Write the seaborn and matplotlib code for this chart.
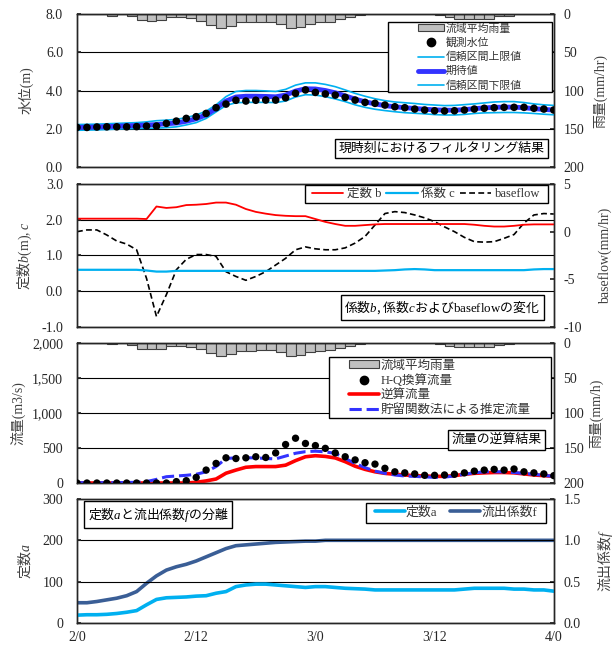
import numpy as np
import matplotlib
matplotlib.use("Agg")
import matplotlib.pyplot as plt
import seaborn as sns
from matplotlib.lines import Line2D
from matplotlib.patches import Patch, Rectangle
from matplotlib.ticker import FuncFormatter, FormatStrFormatter

sns.set_theme(style="white")
plt.rcParams['font.family'] = ['Liberation Serif', 'Noto Sans CJK JP']
plt.rcParams['mathtext.fontset'] = 'custom'
plt.rcParams['mathtext.it'] = 'Liberation Serif:italic'
plt.rcParams['mathtext.rm'] = 'Liberation Serif'
plt.rcParams['axes.unicode_minus'] = False

# hourly data, 2/0 .. 4/0
hours = np.arange(49)
xtick_pos = [0, 12, 24, 36, 48]
xtick_labels = ["2/0", "2/12", "3/0", "3/12", "4/0"]

rain = [0, 0, 0, 2, 0, 3, 8, 9, 8, 4, 4, 5, 9, 14, 18, 16, 11, 11, 10, 10,
        13, 18, 17, 13, 11, 10, 7, 4, 1.5, 0, 0, 0, 0, 0, 0, 0, 1, 4, 6, 6,
        6, 6, 3, 2, 0, 0, 0, 0, 0]

level_obs = [2.07, 2.07, 2.09, 2.10, 2.10, 2.10, 2.11, 2.14, 2.14, 2.28,
             2.40, 2.54, 2.63, 2.80, 3.10, 3.29, 3.49, 3.45, 3.49, 3.50,
             3.50, 3.62, 3.85, 4.03, 3.90, 3.82, 3.76, 3.64, 3.50, 3.38,
             3.33, 3.24, 3.15, 3.10, 3.03, 2.98, 2.94, 2.93, 2.94, 2.98,
             3.03, 3.07, 3.10, 3.12, 3.12, 3.12, 3.07, 3.03, 2.98]
level_exp = [2.07, 2.08, 2.09, 2.11, 2.13, 2.15, 2.17, 2.19, 2.22, 2.26,
             2.30, 2.39, 2.52, 2.73, 3.06, 3.45, 3.66, 3.70, 3.70, 3.69,
             3.67, 3.76, 3.97, 4.09, 4.08, 4.00, 3.88, 3.72, 3.55, 3.41,
             3.30, 3.21, 3.15, 3.10, 3.06, 3.02, 2.99, 2.97, 2.97, 3.00,
             3.05, 3.09, 3.12, 3.13, 3.13, 3.10, 3.05, 3.01, 2.98]
level_up = [2.22, 2.23, 2.24, 2.26, 2.28, 2.30, 2.32, 2.36, 2.42, 2.45,
            2.49, 2.58, 2.72, 2.92, 3.25, 3.68, 3.95, 4.00, 4.00, 3.98,
            3.95, 4.06, 4.28, 4.40, 4.40, 4.32, 4.20, 4.03, 3.85, 3.70,
            3.57, 3.47, 3.40, 3.36, 3.32, 3.27, 3.24, 3.21, 3.22, 3.26,
            3.30, 3.35, 3.40, 3.42, 3.42, 3.37, 3.30, 3.25, 3.22]
level_low = [1.92, 1.93, 1.94, 1.96, 1.98, 2.00, 2.01, 2.02, 2.03, 2.06,
             2.10, 2.20, 2.32, 2.54, 2.88, 3.22, 3.36, 3.38, 3.38, 3.38,
             3.37, 3.45, 3.66, 3.78, 3.76, 3.68, 3.56, 3.42, 3.25, 3.12,
             3.02, 2.95, 2.89, 2.84, 2.81, 2.78, 2.74, 2.72, 2.72, 2.75,
             2.80, 2.83, 2.84, 2.85, 2.85, 2.83, 2.80, 2.76, 2.73]

const_b = [2.03, 2.03, 2.03, 2.03, 2.03, 2.03, 2.03, 2.02, 2.37, 2.33,
           2.35, 2.41, 2.42, 2.44, 2.48, 2.48, 2.42, 2.30, 2.22, 2.17,
           2.13, 2.11, 2.10, 2.10, 2.02, 1.94, 1.88, 1.83, 1.83, 1.85,
           1.87, 1.88, 1.88, 1.88, 1.88, 1.88, 1.88, 1.88, 1.88, 1.88,
           1.86, 1.83, 1.81, 1.81, 1.83, 1.86, 1.87, 1.87, 1.87]
coef_c = [0.60, 0.60, 0.60, 0.60, 0.60, 0.60, 0.60, 0.58, 0.55, 0.55,
          0.57, 0.57, 0.57, 0.57, 0.57, 0.57, 0.57, 0.57, 0.57, 0.57,
          0.57, 0.57, 0.57, 0.57, 0.57, 0.57, 0.57, 0.57, 0.57, 0.57,
          0.57, 0.58, 0.59, 0.61, 0.62, 0.61, 0.59, 0.59, 0.59, 0.59,
          0.59, 0.59, 0.59, 0.59, 0.59, 0.59, 0.61, 0.62, 0.62]
baseflow = [0.0, 0.18, 0.18, -0.35, -0.98, -1.3, -1.9, -4.9, -8.9, -6.6,
            -4.0, -2.9, -2.4, -2.4, -2.6, -4.2, -4.7, -5.1, -4.7, -4.2,
            -3.5, -2.8, -1.9, -1.6, -1.8, -1.9, -1.9, -1.7, -1.2, -0.5,
            0.7, 1.9, 2.1, 2.0, 1.75, 1.45, 1.05, 0.5, 0.0, -0.6,
            -1.05, -1.1, -1.05, -0.7, -0.3, 0.9, 1.75, 1.9, 1.85]

q_hq = [0, 0, 0, 0, 0, 0, 0, 0, 0, 0,
        20, 33, 80, 185, 280, 360, 350, 360, 375, 365,
        430, 550, 640, 565, 535, 495, 430, 375, 330, 290,
        270, 210, 160, 145, 130, 110, 110, 115, 125, 145,
        170, 185, 195, 185, 200, 160, 145, 130, 105]
q_inv = [0, 0, 0, 0, 0, 0, 0, 0, 0, 0,
         0, 0, 10, 30, 57, 140, 185, 225, 235, 235,
         235, 255, 320, 375, 390, 380, 358, 305, 240, 195,
         160, 138, 125, 115, 105, 100, 95, 95, 105, 125,
         138, 145, 150, 150, 145, 130, 115, 105, 95]
q_storage = [5, 5, 5, 5, 5, 8, 10, 20, 52, 90,
             100, 110, 125, 160, 235, 350, 360, 360, 360, 350,
             345, 385, 425, 448, 455, 445, 424, 350, 280, 220,
             170, 138, 115, 100, 95, 87, 82, 85, 100, 125,
             145, 160, 160, 160, 150, 138, 125, 110, 95]

const_a = [19, 20, 20, 21, 23, 26, 30, 44, 57, 61,
           62, 63, 65, 66, 72, 76, 88, 92, 94, 94,
           92, 90, 88, 86, 88, 88, 86, 84, 83, 82,
           80, 80, 80, 80, 80, 80, 80, 80, 80, 82,
           84, 84, 84, 84, 82, 82, 80, 80, 77]
coef_f = [0.245, 0.245, 0.26, 0.28, 0.30, 0.33, 0.38, 0.48, 0.57, 0.64,
          0.68, 0.71, 0.75, 0.80, 0.85, 0.90, 0.935, 0.945, 0.955, 0.965,
          0.975, 0.98, 0.985, 0.99, 0.99, 1.0, 1.0, 1.0, 1.0, 1.0,
          1.0, 1.0, 1.0, 1.0, 1.0, 1.0, 1.0, 1.0, 1.0, 1.0,
          1.0, 1.0, 1.0, 1.0, 1.0, 1.0, 1.0, 1.0, 1.0]

CYAN = "#00B0F0"
BLUE = "#3333FF"
RED = "#FF0000"
NAVY = "#3A5E96"
BAR_FC = "#C0C0C0"
BAR_EC = "#404040"
LABEL_C = "#404040"
TICK_C = "#262626"
JP = "Noto Sans CJK JP"
TICK_FS = 10
LABEL_FS = 10

fig = plt.figure(figsize=(6.16, 6.46), dpi=100)
L, W = 0.125, 0.774
ax1 = fig.add_axes([L, 0.7415, W, 0.2368])
ax2 = fig.add_axes([L, 0.4938, W, 0.2214])
ax3 = fig.add_axes([L, 0.2523, W, 0.2167])
ax4 = fig.add_axes([L, 0.0356, W, 0.1920])


def style(ax, axr, bottom_labels=False):
    for a in (ax, axr):
        a.set_xlim(0, 48)
        a.set_xticks(xtick_pos)
        for s in a.spines.values():
            s.set_color(TICK_C)
            s.set_linewidth(1.0)
    ax.tick_params(axis='x', direction='in', length=4, colors=TICK_C,
                   labelsize=TICK_FS, pad=6, labelbottom=bottom_labels)
    ax.tick_params(axis='y', direction='in', length=3, colors=TICK_C,
                   labelsize=TICK_FS, pad=10)
    axr.tick_params(axis='y', direction='in', length=3, colors=TICK_C,
                    labelsize=TICK_FS, pad=7)
    ax.grid(axis='y', color='black', lw=0.8)
    ax.grid(axis='x', visible=False)
    ax.set_zorder(axr.get_zorder() + 1)
    ax.patch.set_visible(False)


def boxed_legend(ax, handles, labels, box, fontsize, ncol=1, **kw):
    x0, y0, x1, y1 = box
    ax.add_patch(Rectangle((x0, y0), x1 - x0, y1 - y0, transform=ax.transAxes,
                           fc='white', ec='black', lw=1.0, zorder=8, clip_on=False))
    leg = ax.legend(handles, labels, loc='center',
                    bbox_to_anchor=((x0 + x1) / 2, (y0 + y1) / 2),
                    bbox_transform=ax.transAxes, frameon=False,
                    fontsize=fontsize, ncol=ncol, borderpad=0,
                    borderaxespad=0, **kw)
    leg.set_zorder(9)
    for t in leg.get_texts():
        t.set_color('#333333')


def title_box(ax, text, x, y, **kw):
    ax.text(x, y, text, transform=ax.transAxes, ha='center', va='center',
            fontsize=9.3, color='black', zorder=10,
            bbox=dict(boxstyle='square,pad=0.28', fc='white', ec='black', lw=1.0), **kw)


# ---------- panel 1: water level ----------
ax1r = ax1.twinx()
ax1r.bar(hours, rain, width=1.0, align='edge', color=BAR_FC, edgecolor=BAR_EC, lw=0.8)
ax1r.set_ylim(200, 0)
ax1r.set_yticks([0, 50, 100, 150, 200])
sns.lineplot(x=hours, y=level_up, ax=ax1, color=CYAN, lw=1.2, errorbar=None, legend=False)
sns.lineplot(x=hours, y=level_low, ax=ax1, color=CYAN, lw=1.2, errorbar=None, legend=False)
sns.lineplot(x=hours, y=level_exp, ax=ax1, color=BLUE, lw=3.5, errorbar=None, legend=False)
sns.scatterplot(x=hours, y=level_obs, ax=ax1, color='black', s=30, edgecolor='none',
                zorder=4, legend=False)
ax1.set_ylim(0, 8)
ax1.set_yticks([0, 2, 4, 6, 8])
ax1.yaxis.set_major_formatter(FormatStrFormatter('%.1f'))
style(ax1, ax1r)
ax1.set_ylabel("水位(m)", fontsize=LABEL_FS, color=LABEL_C)
ax1.yaxis.set_label_coords(-0.091, 0.5)
ax1r.set_ylabel("雨量(mm/hr)", fontsize=LABEL_FS, color=LABEL_C)
ax1r.yaxis.set_label_coords(1.082, 0.5)
h1 = [Patch(fc=BAR_FC, ec=BAR_EC, lw=0.8),
      Line2D([], [], ls='none', marker='o', color='black', ms=6),
      Line2D([], [], color=CYAN, lw=1.2),
      Line2D([], [], color=BLUE, lw=3.5),
      Line2D([], [], color=CYAN, lw=1.2)]
l1 = ["流域平均雨量", "観測水位", "信頼区間上限値", "期待値", "信頼区間下限値"]
boxed_legend(ax1, h1, l1, (0.652, 0.490, 0.996, 0.948), 7.8,
             labelspacing=0.35, handlelength=2.4, handletextpad=0.15, handleheight=0.6)
title_box(ax1, "現時刻におけるフィルタリング結果", 0.765, 0.121)

# ---------- panel 2: parameters b, c and baseflow ----------
ax2r = ax2.twinx()
sns.lineplot(x=hours, y=baseflow, ax=ax2r, color='black', lw=1.2,
             linestyle=(0, (3.5, 2)), errorbar=None, legend=False)
ax2r.set_ylim(-10, 5)
ax2r.set_yticks([-10, -5, 0, 5])
sns.lineplot(x=hours, y=const_b, ax=ax2, color=RED, lw=1.3, errorbar=None, legend=False)
sns.lineplot(x=hours, y=coef_c, ax=ax2, color=CYAN, lw=1.6, errorbar=None, legend=False)
ax2.set_ylim(-1, 3)
ax2.set_yticks([-1, 0, 1, 2, 3])
ax2.yaxis.set_major_formatter(FormatStrFormatter('%.1f'))
style(ax2, ax2r)
ax2.set_ylabel("定数$b\\mathrm{(m)},c$", fontsize=LABEL_FS, color=LABEL_C, fontfamily=JP)
ax2.yaxis.set_label_coords(-0.091, 0.5)
ax2r.set_ylabel("baseflow(mm/hr)", fontsize=LABEL_FS, color=LABEL_C)
ax2r.yaxis.set_label_coords(1.092, 0.5)
h2 = [Line2D([], [], color=RED, lw=1.3),
      Line2D([], [], color=CYAN, lw=1.6),
      Line2D([], [], color='black', lw=1.2, ls=(0, (3.5, 2)))]
l2 = ["定数 b", "係数 c", "baseflow"]
boxed_legend(ax2, h2, l2, (0.478, 0.865, 0.987, 0.993), 9, ncol=3,
             handlelength=2.5, handletextpad=0.3, columnspacing=0.4)
title_box(ax2, "係数$b$, 係数$c$および$\\mathrm{baseflow}$の変化", 0.766, 0.136,
          fontfamily=JP)

# ---------- panel 3: discharge ----------
ax3r = ax3.twinx()
ax3r.bar(hours, rain, width=1.0, align='edge', color=BAR_FC, edgecolor=BAR_EC, lw=0.8)
ax3r.set_ylim(200, 0)
ax3r.set_yticks([0, 50, 100, 150, 200])
sns.lineplot(x=hours, y=q_inv, ax=ax3, color=RED, lw=2.6, errorbar=None, legend=False)
sns.lineplot(x=hours, y=q_storage, ax=ax3, color=BLUE, lw=2.2,
             linestyle=(0, (4, 1.6)), errorbar=None, legend=False)
sns.scatterplot(x=hours, y=q_hq, ax=ax3, color='black', s=28, edgecolor='none',
                zorder=4, legend=False)
ax3.set_ylim(0, 2000)
ax3.set_yticks([0, 500, 1000, 1500, 2000])
ax3.yaxis.set_major_formatter(FuncFormatter(lambda v, p: f"{int(v):,}"))
style(ax3, ax3r)
ax3.set_ylabel("流量(m3/s)", fontsize=LABEL_FS, color=LABEL_C)
ax3.yaxis.set_label_coords(-0.108, 0.5)
ax3r.set_ylabel("雨量(mm/h)", fontsize=LABEL_FS, color=LABEL_C)
ax3r.yaxis.set_label_coords(1.075, 0.5)
h3 = [Patch(fc=BAR_FC, ec=BAR_EC, lw=0.8),
      Line2D([], [], ls='none', marker='o', color='black', ms=6),
      Line2D([], [], color=RED, lw=2.6),
      Line2D([], [], color=BLUE, lw=2.2, ls=(0, (4, 1.6)))]
l3 = ["流域平均雨量", "H-Q換算流量", "逆算流量", "貯留関数法による推定流量"]
boxed_legend(ax3, h3, l3, (0.528, 0.462, 0.994, 0.902), 9,
             labelspacing=0.2, handlelength=2.4, handletextpad=0.15, handleheight=0.55)
title_box(ax3, "流量の逆算結果", 0.88, 0.307)

# ---------- panel 4: a and f ----------
ax4r = ax4.twinx()
sns.lineplot(x=hours, y=coef_f, ax=ax4r, color=NAVY, lw=2.6, errorbar=None, legend=False)
ax4r.set_ylim(0, 1.5)
ax4r.set_yticks([0, 0.5, 1.0, 1.5])
ax4r.yaxis.set_major_formatter(FormatStrFormatter('%.1f'))
sns.lineplot(x=hours, y=const_a, ax=ax4, color=CYAN, lw=2.6, errorbar=None, legend=False)
ax4.set_ylim(0, 300)
ax4.set_yticks([0, 100, 200, 300])
style(ax4, ax4r, bottom_labels=True)
ax4.set_xticklabels(xtick_labels)
ax4.set_ylabel("定数$a$", fontsize=LABEL_FS, color=LABEL_C, fontfamily=JP)
ax4.yaxis.set_label_coords(-0.093, 0.5)
ax4r.set_ylabel("流出係数$f$", fontsize=LABEL_FS, color=LABEL_C, fontfamily=JP)
ax4r.yaxis.set_label_coords(1.088, 0.5)
h4 = [Line2D([], [], color=CYAN, lw=2.6), Line2D([], [], color=NAVY, lw=2.6)]
l4 = ["定数a", "流出係数f"]
boxed_legend(ax4, h4, l4, (0.607, 0.809, 0.983, 0.970), 9.3, ncol=2,
             handlelength=2.3, handletextpad=0.1, columnspacing=1.0)
title_box(ax4, "定数$a$と流出係数$f$の分離", 0.17, 0.875, fontfamily=JP)

fig.savefig("out.png", dpi=100)
